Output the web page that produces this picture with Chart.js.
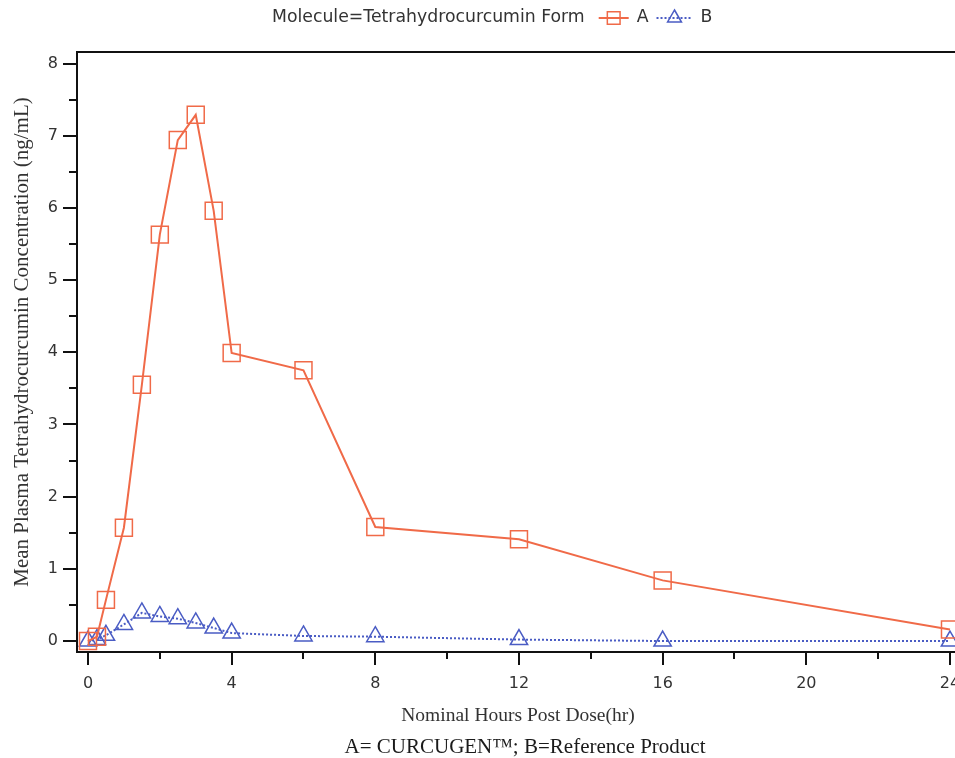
<!DOCTYPE html>
<html>
<head>
<meta charset="utf-8">
<script src="https://cdn.jsdelivr.net/npm/chart.js@4.4.1/dist/chart.umd.min.js"></script>
<style>
  html, body { margin: 0; padding: 0; background: #fff; }
  #wrap { width: 955px; height: 758px; overflow: hidden; }
</style>
</head>
<body>
<div id="wrap"><canvas id="chart" width="955" height="758"></canvas></div>
<script>
'use strict';
// nominal sampling times (hr)
var hours = [0, 0.25, 0.5, 1, 1.5, 2, 2.5, 3, 3.5, 4, 6, 8, 12, 16, 24];
// mean plasma tetrahydrocurcumin (ng/mL)
var formA = [0, 0.06, 0.57, 1.57, 3.55, 5.63, 6.94, 7.29, 5.96, 3.99, 3.75, 1.58, 1.41, 0.84, 0.16];
var formB = [0, 0.02, 0.08, 0.23, 0.39, 0.34, 0.31, 0.25, 0.18, 0.11, 0.07, 0.06, 0.02, 0, 0];
var xMajor = [0, 4, 8, 12, 16, 20, 24];
var xMinor = [2, 6, 10, 14, 18, 22];
var yMajor = [0, 1, 2, 3, 4, 5, 6, 7, 8];
var yMinor = [0.5, 1.5, 2.5, 3.5, 4.5, 5.5, 6.5, 7.5];

var orange = '#F06A48', blue = '#4A5CC4';
var sansFont = '"DejaVu Sans", sans-serif';
var serifFont = '"Liberation Serif", "Times New Roman", serif';

function toPoints(ys) {
    return hours.map(function (h, i) { return { x: h, y: ys[i] }; });
}

// frame, minor ticks, inline legend, axis titles and footer note
var decorations = {
    id: 'decorations',
    afterDraw: function (chart) {
        var ctx = chart.ctx, area = chart.chartArea;
        var xs = chart.scales.x, ys = chart.scales.y;
        ctx.save();
        ctx.strokeStyle = '#111';
        ctx.lineWidth = 2;
        ctx.beginPath();
        ctx.moveTo(area.left, area.top);
        ctx.lineTo(area.right, area.top);
        ctx.stroke();
        ctx.beginPath();
        xMinor.forEach(function (v) {
            var px = Math.round(xs.getPixelForValue(v));
            ctx.moveTo(px, area.bottom);
            ctx.lineTo(px, area.bottom + 7);
        });
        yMinor.forEach(function (v) {
            var py = Math.round(ys.getPixelForValue(v));
            ctx.moveTo(area.left, py);
            ctx.lineTo(area.left - 8, py);
        });
        ctx.stroke();

        // legend row at the top
        ctx.font = '17.3px ' + sansFont;
        ctx.fillStyle = '#333';
        ctx.textBaseline = 'middle';
        ctx.textAlign = 'left';
        var ly = 18, lx = 272;
        var head = 'Molecule=Tetrahydrocurcumin Form';
        ctx.fillText(head, lx, ly);
        lx += ctx.measureText(head).width + 14;
        chart.data.datasets.forEach(function (ds) {
            var w = ds.label === 'A' ? 30 : 36;
            ctx.save();
            ctx.strokeStyle = ds.borderColor;
            ctx.fillStyle = 'rgba(0,0,0,0)';
            ctx.lineWidth = 2;
            ctx.setLineDash(ds.borderDash || []);
            ctx.beginPath();
            ctx.moveTo(lx, ly);
            ctx.lineTo(lx + w, ly);
            ctx.stroke();
            ctx.setLineDash([]);
            ctx.lineWidth = 1.5;
            Chart.helpers.drawPoint(ctx, {
                pointStyle: ds.pointStyle,
                radius: ds.pointStyle === 'rect' ? 9 : 8,
                borderWidth: 1.5,
                rotation: 0
            }, lx + w / 2, ly);
            ctx.restore();
            ctx.fillText(ds.label, lx + w + 8, ly);
            lx += w + 8 + ctx.measureText(ds.label).width + 8;
        });

        // axis titles and note
        ctx.fillStyle = '#333';
        ctx.textAlign = 'center';
        ctx.font = '19.5px ' + serifFont;
        ctx.fillText('Nominal Hours Post Dose(hr)', 518, 716);
        ctx.save();
        ctx.translate(22, 342);
        ctx.rotate(-Math.PI / 2);
        ctx.font = '21px ' + serifFont;
        ctx.fillText('Mean Plasma Tetrahydrocurcumin Concentration (ng/mL)', 0, 0);
        ctx.restore();
        ctx.font = '21px ' + serifFont;
        ctx.fillStyle = '#1a1a1a';
        ctx.fillText('A= CURCUGEN\u2122; B=Reference Product', 525, 747);
        ctx.restore();
    }
};

new Chart(document.getElementById('chart'), {
    type: 'scatter',
    data: {
        datasets: [{
            label: 'A',
            data: toPoints(formA),
            showLine: true,
            borderColor: orange,
            backgroundColor: 'transparent',
            borderWidth: 2,
            pointStyle: 'rect',
            pointRadius: 12,
            pointBorderWidth: 1.5,
            pointBackgroundColor: 'transparent',
            clip: false
        }, {
            label: 'B',
            data: toPoints(formB),
            showLine: true,
            borderColor: blue,
            backgroundColor: 'transparent',
            borderWidth: 2,
            borderDash: [2, 2],
            pointStyle: 'triangle',
            pointRadius: 10,
            pointBorderWidth: 1.5,
            pointBackgroundColor: 'transparent',
            clip: false
        }]
    },
    options: {
        responsive: false,
        animation: false,
        layout: { autoPadding: false, padding: { top: 52, right: 0, left: 0, bottom: 0 } },
        plugins: {
            legend: { display: false },
            tooltip: { enabled: false }
        },
        scales: {
            x: {
                type: 'linear',
                min: -0.306,
                max: 24.14,
                afterBuildTicks: function (scale) {
                    scale.ticks = xMajor.map(function (v) { return { value: v }; });
                },
                afterFit: function (scale) {
                    scale.height = 106;
                    scale.paddingLeft = 0;
                    scale.paddingRight = 0;
                },
                grid: { drawOnChartArea: false, drawTicks: true, tickLength: 13, color: '#111', lineWidth: 2 },
                border: { display: true, color: '#111', width: 2 },
                ticks: { color: '#333', padding: 9, maxRotation: 0, font: { family: sansFont, size: 16 } }
            },
            y: {
                type: 'linear',
                min: -0.152,
                max: 8.16,
                afterBuildTicks: function (scale) {
                    scale.ticks = yMajor.map(function (v) { return { value: v }; });
                },
                afterFit: function (scale) {
                    scale.width = 77;
                    scale.paddingTop = 0;
                    scale.paddingBottom = 0;
                },
                grid: { drawOnChartArea: false, drawTicks: true, tickLength: 14, color: '#111', lineWidth: 2 },
                border: { display: true, color: '#111', width: 2 },
                ticks: { color: '#333', padding: 5, font: { family: sansFont, size: 16 } }
            }
        }
    },
    plugins: [decorations]
});
</script>
</body>
</html>
